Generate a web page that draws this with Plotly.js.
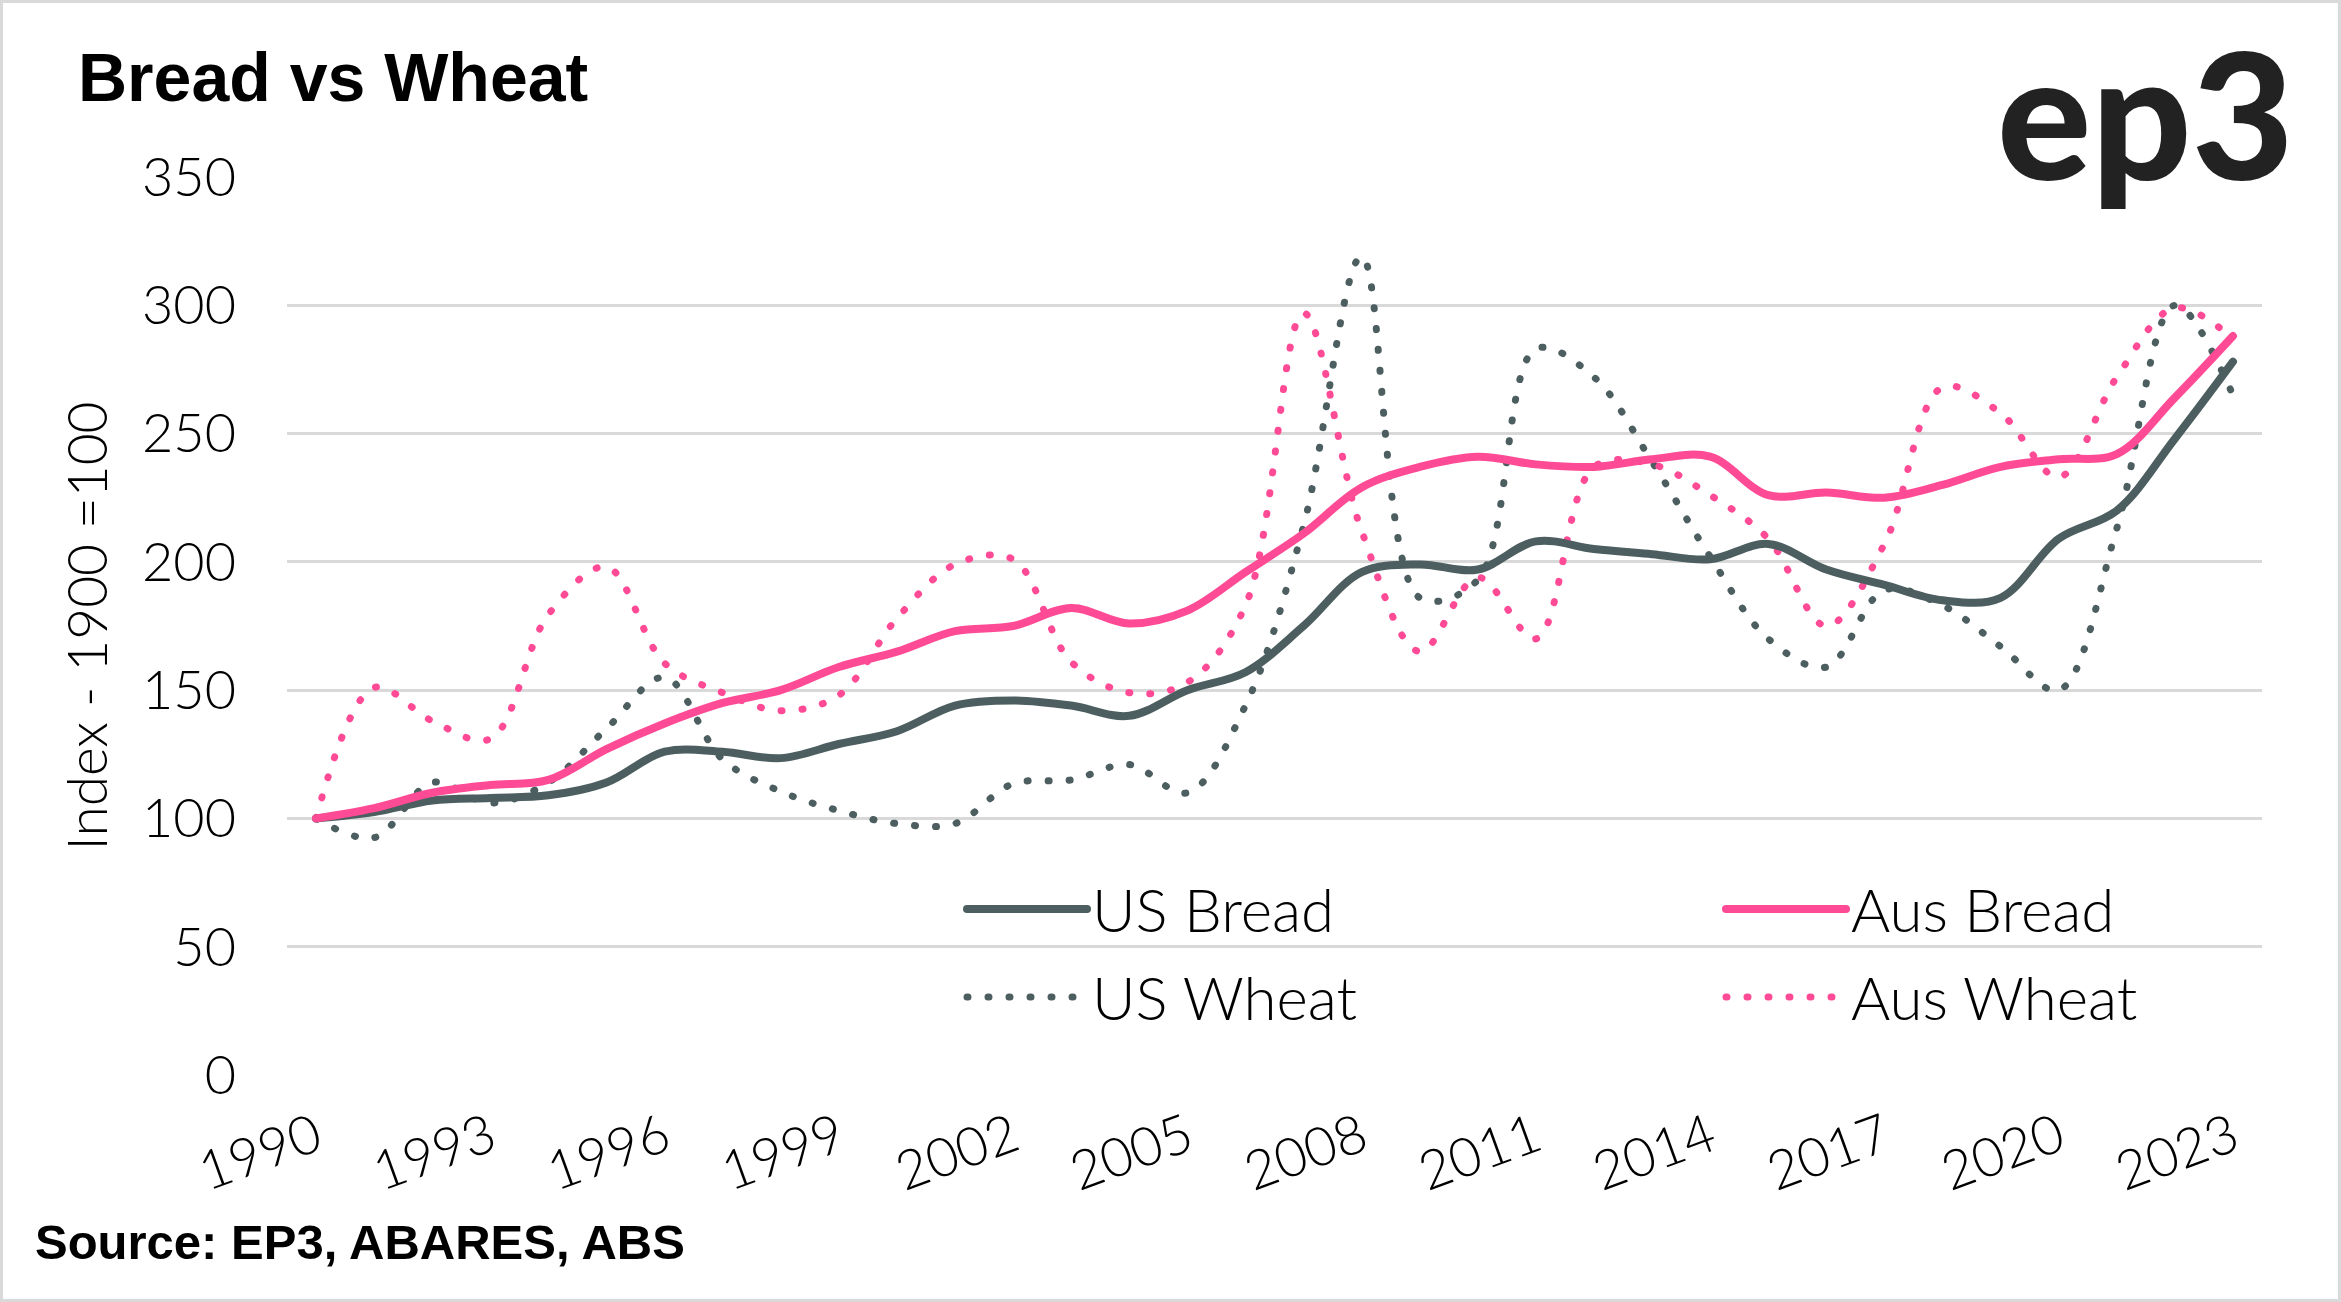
<!DOCTYPE html>
<html><head><meta charset="utf-8">
<script src="https://cdn.plot.ly/plotly-3.0.1.min.js"></script>
<style>
html,body{margin:0;padding:0;background:#fff;}
#wrap{position:relative;width:2341px;height:1302px;overflow:hidden;}
#chart{width:2341px;height:1302px;}
#frame{position:absolute;left:0;top:0;width:2341px;height:1302px;box-sizing:border-box;border:3px solid #d9d9d9;pointer-events:none;}
path.js-line{stroke-linecap:round;}
</style></head>
<body><div id="wrap"><div id="chart"></div><div id="frame"></div></div>
<script>
const years = [1990,1991,1992,1993,1994,1995,1996,1997,1998,1999,2000,2001,2002,2003,2004,2005,2006,2007,2008,2009,2010,2011,2012,2013,2014,2015,2016,2017,2018,2019,2020,2021,2022,2023];
const usBread = [100,102.5,107,108,109,114,126,126,123.5,129,134,144,146,144,140,150,157,175,196,199,197,208,205,203,201,207,197,191,185,186,209,220,248,278];
const ausBread = [100,104,110,113,115,127,137,145,150,159,165,173,175,182,176,181,196,211,229,237,241,238,237,240,241,226,227,225,230,237,240,242,264,288];
const usWheat = [100,92.5,114,106,114,135,155,123,110.5,103,98,98,113.5,115,121,110,144,214,319,186,193,283,272,239,202,170,159,189,183,167,150,213,300,265];
const ausWheat = [100,151,138,131,179.5,198,160.5,149,142,148,178,199,201,161,149,153,183,297,212,165,194,170,237,238,226,209,175,207,268,258,233,272,299,287];
const tickYears = [1990,1993,1996,1999,2002,2005,2008,2011,2014,2017,2020,2023];
const tickLabels = ['1990','1993','1996','1999','2002','2005','2008','2011','2014','2017','2020','2023'];

const GRAY = '#4c5e5f', PINK = '#ff4b96';
const DOT = '1px,20px';
const FONT = 'Lato, "Open Sans", sans-serif';
const BOLD = '"Liberation Sans", Arial, sans-serif';

const traces = [
  {x: years, y: usWheat, name: 'US Wheat', mode: 'lines', legend: 'legend3',
   line: {color: GRAY, width: 7, dash: DOT, shape: 'spline', smoothing: 1}},
  {x: years, y: ausWheat, name: 'Aus Wheat', mode: 'lines', legend: 'legend4',
   line: {color: PINK, width: 7, dash: DOT, shape: 'spline', smoothing: 1}},
  {x: years, y: usBread, name: 'US Bread', mode: 'lines', legend: 'legend',
   line: {color: GRAY, width: 8, shape: 'spline', smoothing: 1}},
  {x: years, y: ausBread, name: 'Aus Bread', mode: 'lines', legend: 'legend2',
   line: {color: PINK, width: 8, shape: 'spline', smoothing: 1}}
];

const L = 287, R = 79, T = 177, B = 227;
const PW = 2341 - L - R, PH = 1302 - T - B;
const px = v => (v - L) / PW;
const py = v => (1302 - B - v) / PH;

const legendBase = {
  orientation: 'v', xanchor: 'left', yanchor: 'middle',
  itemwidth: 120,
  font: {family: FONT, size: 60, color: '#000', weight: 300},
  bgcolor: 'rgba(0,0,0,0)', borderwidth: 0
};

const layout = {
  width: 2341, height: 1302,
  margin: {l: L, r: R, t: T, b: B, pad: 0},
  paper_bgcolor: '#ffffff', plot_bgcolor: '#ffffff',
  font: {family: FONT, size: 54, color: '#000', weight: 300},
  showlegend: true,
  title: {text: 'Bread vs Wheat', font: {family: BOLD, size: 68, weight: 700, color: '#000'},
          x: 78/2341, xanchor: 'left', xref: 'container', y: 1 - 77/1302, yanchor: 'middle', yref: 'container'},
  xaxis: {range: [1989.5, 2023.5], tickmode: 'array', tickvals: tickYears, ticktext: tickLabels,
          tickangle: -20, showgrid: false, zeroline: false, showline: false, ticks: '',
          ticklabelstandoff: 20, tickfont: {family: FONT, size: 54, color: '#000', weight: 300}},
  yaxis: {range: [0, 350], tickmode: 'linear', tick0: 0, dtick: 50, showgrid: true,
          gridcolor: '#d9d9d9', gridwidth: 3, zeroline: false, showline: false, ticks: '',
          ticklabelstandoff: 50, tickfont: {family: FONT, size: 54, color: '#000', weight: 300}},
  legend: Object.assign({}, legendBase, {x: px(962), y: py(909)}),
  legend2: Object.assign({}, legendBase, {x: px(1721), y: py(909)}),
  legend3: Object.assign({}, legendBase, {x: px(962), y: py(997)}),
  legend4: Object.assign({}, legendBase, {x: px(1721), y: py(997)}),
  annotations: [
    {text: 'ep3', xref: 'paper', yref: 'paper', x: px(2296), y: py(112), xanchor: 'right', yanchor: 'middle',
     showarrow: false, font: {family: FONT, size: 176, weight: 900, color: '#222222'}},
    {text: 'Source: EP3, ABARES, ABS', xref: 'paper', yref: 'paper', x: px(33), y: py(1242), xanchor: 'left', yanchor: 'middle',
     showarrow: false, font: {family: BOLD, size: 49, weight: 700, color: '#000'}}
  ]
};
layout.yaxis.title = {text: 'Index - 1900 =100', standoff: 16, font: {family: FONT, size: 55, color: '#000', weight: 300}};

Plotly.newPlot('chart', traces, layout, {displayModeBar: false, staticPlot: true});
</script>
</body></html>
